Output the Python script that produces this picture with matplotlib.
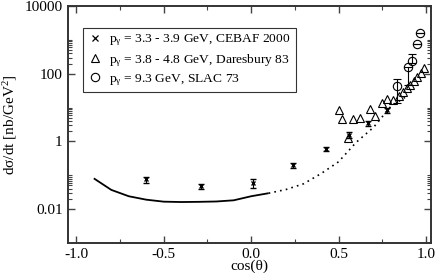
import matplotlib
matplotlib.use("Agg")
import matplotlib.pyplot as plt
from matplotlib.ticker import FixedLocator, FixedFormatter
from matplotlib.lines import Line2D

plt.rcParams['font.family'] = ['Liberation Serif', 'DejaVu Serif']
plt.rcParams['mathtext.fontset'] = 'custom'
plt.rcParams['mathtext.rm'] = 'Liberation Serif'
plt.rcParams['mathtext.it'] = 'Liberation Serif:italic'

# CEBAF 2000 (crosses)
cebaf_x = [-0.60, -0.285, 0.01, 0.237, 0.427, 0.56, 0.668, 0.778]
cebaf_y = [0.076, 0.047, 0.060, 0.195, 0.61, 1.6, 3.4, 8.4]
cebaf_err = [0.015, 0.009, 0.018, 0.035, 0.09, 0.3, 0.5, 1.5]

# Daresbury 83 (triangles)
dar_x = [0.50, 0.52, 0.556, 0.585, 0.62, 0.68, 0.71, 0.746, 0.778, 0.81,
         0.845, 0.87, 0.89, 0.91, 0.93, 0.95, 0.97, 0.99]
dar_y = [8.7, 4.5, 1.26, 4.7, 4.8, 9.1, 5.6, 13.8, 17.4, 16.6,
         21.9, 28.2, 38.0, 48.0, 60.0, 81.0, 107.0, 148.0]

# SLAC 73 (circles)
slac_x = [0.835, 0.898, 0.92, 0.95, 0.965]
slac_y = [43.0, 155.0, 245.0, 760.0, 1600.0]
slac_err_lo = [29.0, 107.0, 40.0, 0.0, 0.0]
slac_err_hi = [25.0, 0.0, 150.0, 0.0, 0.0]

# theory curve
solid_x = [-0.90, -0.80, -0.70, -0.60, -0.50, -0.40, -0.30, -0.20, -0.10, 0.00, 0.10]
solid_y = [0.081, 0.037, 0.024, 0.019, 0.0166, 0.0162, 0.0164, 0.0168, 0.0182, 0.024, 0.0295]
dot_x = [0.10, 0.20, 0.30, 0.40, 0.50, 0.60, 0.70, 0.80, 0.88]
dot_y = [0.0295, 0.038, 0.056, 0.112, 0.25, 0.93, 2.6, 11.0, 20.0]

legend_labels = [r'p$_{\mathrm{γ}}$ = 3.3 - 3.9 GeV, CEBAF 2000',
                 r'p$_{\mathrm{γ}}$ = 3.8 - 4.8 GeV, Daresbury 83',
                 r'p$_{\mathrm{γ}}$ = 9.3 GeV, SLAC 73']

fig = plt.figure(figsize=(4.36, 2.73), dpi=100)
ax = fig.add_axes([0.155, 0.110, 0.834, 0.868])

ax.plot(solid_x, solid_y, color='black', lw=1.3, solid_capstyle='butt')
ax.plot(dot_x, dot_y, color='black', lw=1.2, linestyle=(0, (1, 2.5)))

ax.errorbar(cebaf_x, cebaf_y, yerr=cebaf_err, fmt='x', color='black', ms=3.5,
            mew=1.0, elinewidth=0.8, capsize=2.5, capthick=0.9)
ax.plot(dar_x, dar_y, '^', mfc='none', mec='black', ms=5.5, mew=0.8,
        linestyle='none')
ax.errorbar(slac_x, slac_y, yerr=[slac_err_lo, slac_err_hi], fmt='o', mfc='none',
            mec='black', ecolor='black', ms=6, mew=0.8, elinewidth=0.8,
            capsize=3, capthick=0.8)

handles = [
    Line2D([], [], marker='x', color='black', ms=4, mew=0.9, linestyle='none'),
    Line2D([], [], marker='^', mfc='none', mec='black', ms=6, mew=0.8, linestyle='none'),
    Line2D([], [], marker='o', mfc='none', mec='black', ms=6, mew=0.8, linestyle='none'),
]

ax.set_yscale('log')
ax.set_xlim(-1.05, 1.03)
ax.set_ylim(1e-3, 1e4)

ax.xaxis.set_major_locator(FixedLocator([-1.0, -0.5, 0.0, 0.5, 1.0]))
ax.xaxis.set_major_formatter(FixedFormatter(['-1.0', '-0.5', '0.0', '0.5', '1.0']))
ax.xaxis.set_minor_locator(FixedLocator([-0.75, -0.25, 0.25, 0.75]))

ax.yaxis.set_major_locator(FixedLocator([1e-2, 1.0, 1e2, 1e4]))
ax.yaxis.set_major_formatter(FixedFormatter(['0.01', '1', '100', '10000']))
minors = []
for e in [-2, 0, 2]:
    for k in range(2, 11):
        minors.append(k * 10.0 ** e)
ax.yaxis.set_minor_locator(FixedLocator(minors))
ax.yaxis.set_minor_formatter(FixedFormatter([''] * len(minors)))

ax.tick_params(which='both', direction='in', top=True, right=True, labelsize=11,
               color='#444444')
ax.tick_params(which='major', length=5, width=1.0)
ax.tick_params(which='minor', length=3, width=0.8)
for s in ax.spines.values():
    s.set_linewidth(1.4)
    s.set_color('#333333')

ax.set_xlabel('cos(θ)', fontsize=11, labelpad=-1)
ax.set_ylabel('dσ/dt [nb/GeV$^2$]', fontsize=11, labelpad=4)

leg = ax.legend(handles, legend_labels, loc='upper left', bbox_to_anchor=(0.043, 0.907),
                borderaxespad=0, frameon=True, fancybox=False, edgecolor='black',
                fontsize=9.7, handlelength=1.0, handletextpad=0.6, borderpad=0.35,
                labelspacing=0.25, numpoints=1)
leg.get_frame().set_linewidth(0.8)

fig.savefig('out.png', dpi=100)
